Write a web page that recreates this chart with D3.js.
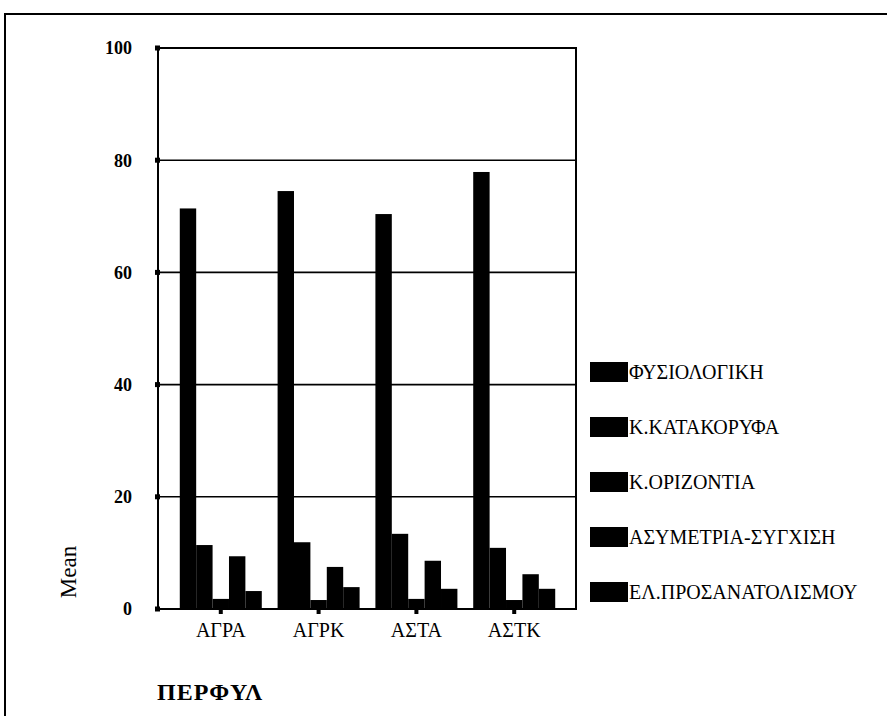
<!DOCTYPE html>
<html>
<head>
<meta charset="utf-8">
<script src="https://cdn.jsdelivr.net/npm/d3@7"></script>
<style>
  body { margin: 0; background: #fff; }
  svg { display: block; }
</style>
</head>
<body>
<div id="chart"></div>
<script>
const categories = ['ΑΓΡΑ', 'ΑΓΡΚ', 'ΑΣΤΑ', 'ΑΣΤΚ'];
const seriesNames = ['ΦΥΣΙΟΛΟΓΙΚΗ', 'Κ.ΚΑΤΑΚΟΡΥΦΑ', 'Κ.ΟΡΙΖΟΝΤΙΑ', 'ΑΣΥΜΕΤΡΙΑ-ΣΥΓΧΙΣΗ', 'ΕΛ.ΠΡΟΣΑΝΑΤΟΛΙΣΜΟΥ'];
const fysiologiki = [71.4, 74.5, 70.4, 77.9];
const katakoryfa = [11.4, 11.9, 13.4, 10.9];
const orizontia = [1.8, 1.6, 1.8, 1.6];
const asymetria = [9.4, 7.5, 8.6, 6.2];
const prosanatolismos = [3.2, 3.9, 3.6, 3.6];
const yTicks = [0, 20, 40, 60, 80, 100];

const seriesValues = [fysiologiki, katakoryfa, orizontia, asymetria, prosanatolismos];

const width = 887, height = 716;
const plot = { left: 158, right: 576, top: 48, bottom: 609 };
const serif = "'Liberation Serif', 'Times New Roman', Times, 'DejaVu Serif', serif";

const svg = d3.select('#chart').append('svg')
  .attr('width', width)
  .attr('height', height)
  .attr('font-family', serif);

// outer border of the scanned figure
svg.append('path')
  .attr('d', `M5,${height} L5,14 L${width},14`)
  .attr('fill', 'none')
  .attr('stroke', '#000')
  .attr('stroke-width', 2);

const y = d3.scaleLinear().domain([0, 100]).range([plot.bottom, plot.top]);
const x0 = d3.scaleBand().domain(categories).range([170, 565])
  .paddingInner(16 / 99).paddingOuter(0.1);
const x1 = d3.scaleBand().domain(seriesNames).range([0, x0.bandwidth()]);

// gridlines
svg.append('g')
  .selectAll('line')
  .data(yTicks)
  .join('line')
    .attr('x1', plot.left)
    .attr('x2', plot.right)
    .attr('y1', d => y(d))
    .attr('y2', d => y(d))
    .attr('stroke', '#000')
    .attr('stroke-width', 1.6);

// bars
svg.append('g')
  .selectAll('g')
  .data(categories)
  .join('g')
    .attr('transform', c => `translate(${x0(c)},0)`)
  .selectAll('rect')
  .data((c, i) => seriesNames.map((s, j) => ({ s, v: seriesValues[j][i] })))
  .join('rect')
    .attr('x', d => x1(d.s))
    .attr('width', x1.bandwidth())
    .attr('y', d => y(d.v))
    .attr('height', d => y(0) - y(d.v))
    .attr('fill', '#000');

// plot frame
svg.append('rect')
  .attr('x', plot.left)
  .attr('y', plot.top)
  .attr('width', plot.right - plot.left)
  .attr('height', plot.bottom - plot.top)
  .attr('fill', 'none')
  .attr('stroke', '#000')
  .attr('stroke-width', 2);

// y axis tick markers + labels
svg.append('g')
  .selectAll('rect')
  .data(yTicks)
  .join('rect')
    .attr('x', plot.left - 3)
    .attr('y', d => y(d) - 2.5)
    .attr('width', 5)
    .attr('height', 5)
    .attr('fill', '#000');

svg.append('g')
  .attr('font-size', 18)
  .attr('font-weight', 'bold')
  .attr('text-anchor', 'end')
  .selectAll('text')
  .data(yTicks)
  .join('text')
    .attr('x', 132)
    .attr('y', d => y(d))
    .attr('dy', '0.35em')
    .text(d => d);

// x axis tick markers + labels
svg.append('g')
  .selectAll('rect')
  .data(categories)
  .join('rect')
    .attr('x', c => x0(c) + x0.bandwidth() / 2 - 2)
    .attr('y', plot.bottom)
    .attr('width', 4)
    .attr('height', 5)
    .attr('fill', '#000');

svg.append('g')
  .attr('font-size', 20)
  .attr('text-anchor', 'middle')
  .selectAll('text')
  .data(categories)
  .join('text')
    .attr('x', c => x0(c) + x0.bandwidth() / 2)
    .attr('y', 637)
    .text(c => c);

// axis titles
svg.append('text')
  .attr('transform', 'translate(76,572) rotate(-90)')
  .attr('text-anchor', 'middle')
  .attr('font-size', 23)
  .text('Mean');

svg.append('text')
  .attr('x', 157)
  .attr('y', 700)
  .attr('font-size', 24)
  .attr('font-weight', 'bold')
  .attr('letter-spacing', 1)
  .text('ΠΕΡΦΥΛ');

// legend
const legend = svg.append('g')
  .selectAll('g')
  .data(seriesNames)
  .join('g')
    .attr('transform', (d, i) => `translate(590,${372 + i * 55})`);

legend.append('rect')
  .attr('x', 0)
  .attr('y', -10)
  .attr('width', 38)
  .attr('height', 20)
  .attr('fill', '#000');

legend.append('text')
  .attr('x', 39)
  .attr('y', 0)
  .attr('dy', '0.35em')
  .attr('font-size', 20)
  .text(d => d);
</script>
</body>
</html>
